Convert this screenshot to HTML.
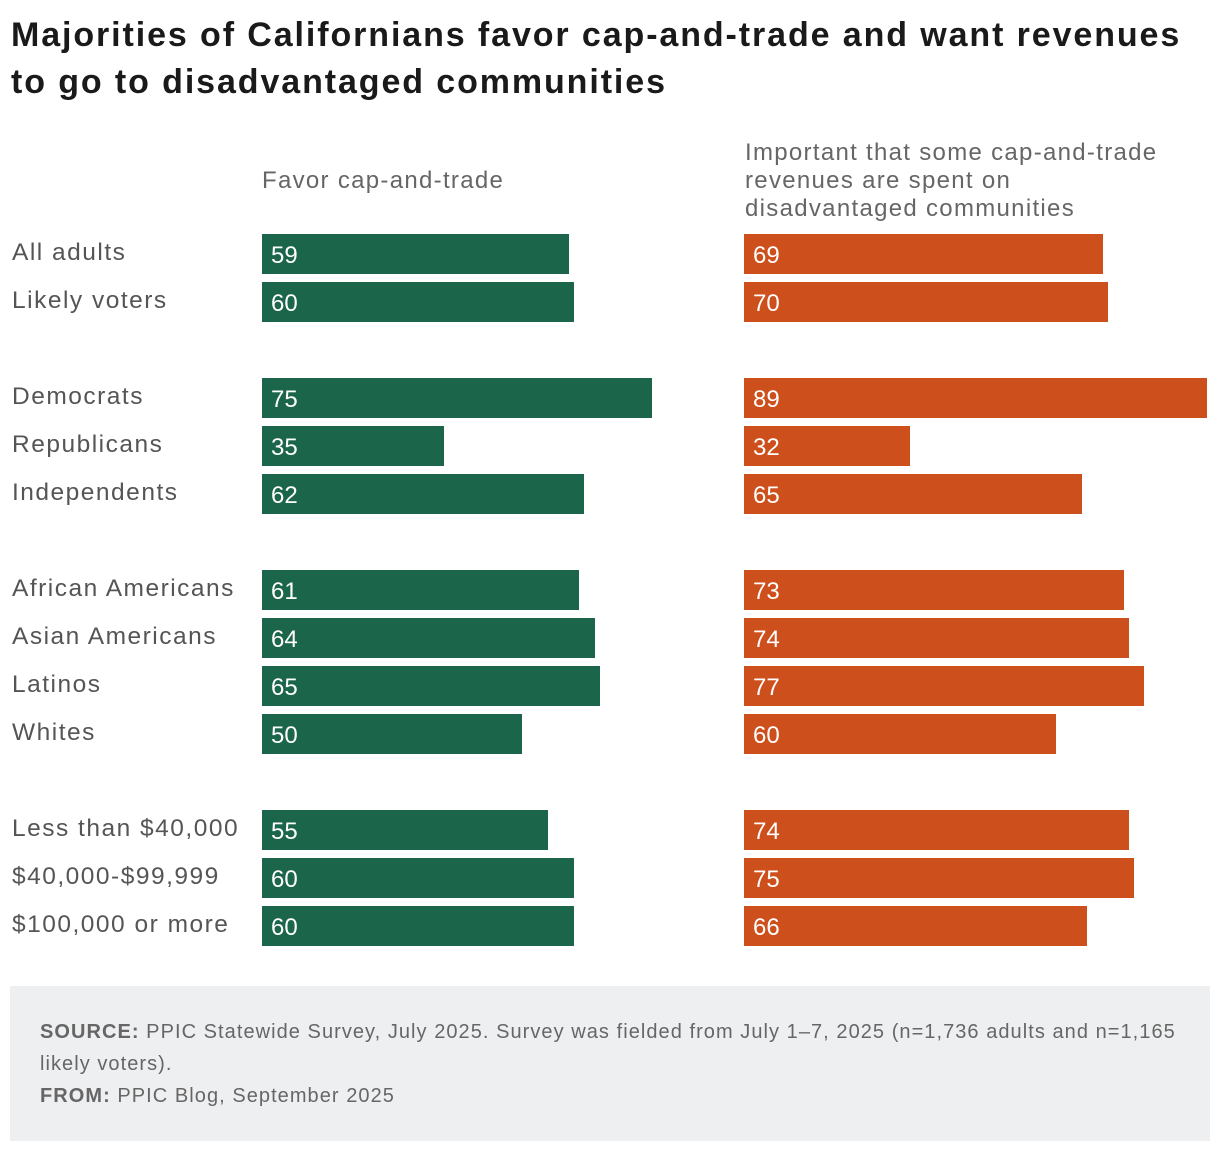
<!DOCTYPE html>
<html><head><meta charset="utf-8">
<style>
body{margin:0;width:1220px;height:1152px;background:#fff;font-family:"Liberation Sans",sans-serif;position:relative;overflow:hidden}
.t{position:absolute;white-space:nowrap}
#title{left:11px;top:12px;font-size:34px;font-weight:bold;color:#1a1a1a;line-height:47px;letter-spacing:1.9px}
.lab{font-size:24.5px;color:#555;left:12px;letter-spacing:1.5px}
.hdr{font-size:24px;color:#666;line-height:28px;letter-spacing:1.3px}
.bar{position:absolute;height:40px}
.val{position:absolute;color:#fff;font-size:24px;line-height:40px;padding-left:9px;top:2px}
#foot{position:absolute;left:10px;top:986px;width:1200px;height:155px;background:#eeeff0}
#foot p{margin:0;position:absolute;left:30px;font-size:20px;color:#666;line-height:32px;letter-spacing:1.05px;white-space:nowrap}
</style></head><body>
<div id="title" class="t">Majorities of Californians favor cap-and-trade and want revenues<br>to go to disadvantaged communities</div>
<div class="t hdr" style="left:262px;top:167px">Favor cap-and-trade</div>
<div class="t hdr" style="left:745px;top:139px">Important that some cap-and-trade<br>revenues are spent on<br>disadvantaged communities</div>
<div id="chart"></div>
<div id="foot">
<p style="top:30px"><b>SOURCE:</b> PPIC Statewide Survey, July 2025. Survey was fielded from July 1–7, 2025 (n=1,736 adults and n=1,165<br>likely voters).</p>
<p style="top:94px"><b>FROM:</b> PPIC Blog, September 2025</p>
</div>
<script>
const categories=["All adults","Likely voters","Democrats","Republicans","Independents","African Americans","Asian Americans","Latinos","Whites","Less than $40,000","$40,000-$99,999","$100,000 or more"];
const favorValues=[59,60,75,35,62,61,64,65,50,55,60,60];
const revenueValues=[69,70,89,32,65,73,74,77,60,74,75,66];
const groupIndex=[0,0,1,1,1,2,2,2,2,3,3,3];
const ROW=48, GAP=48, TOP=234, SCALE=5.2;
function yPos(i){return TOP+i*ROW+groupIndex[i]*GAP;}
function xLen(v){return v*SCALE;}
const c=document.getElementById('chart');
categories.forEach((cat,i)=>{
  const y=yPos(i);
  const l=document.createElement('div');
  l.className='t lab';l.style.top=(y+3)+'px';l.style.lineHeight='32px';l.textContent=cat;
  
  
  c.appendChild(l);
  [[favorValues,262,'#1b654b','favor-bar'],[revenueValues,744,'#cc4f1c','revenue-bar']].forEach(([arr,x0,col,nm])=>{
    const b=document.createElement('div');
    b.className='bar';b.style.left=x0+'px';b.style.top=y+'px';b.style.width=xLen(arr[i])+'px';b.style.background=col;
    
    
    const v=document.createElement('div');
    v.className='val';v.textContent=arr[i];
    
    
    b.appendChild(v);c.appendChild(b);
  });
});
</script>
</body></html>
